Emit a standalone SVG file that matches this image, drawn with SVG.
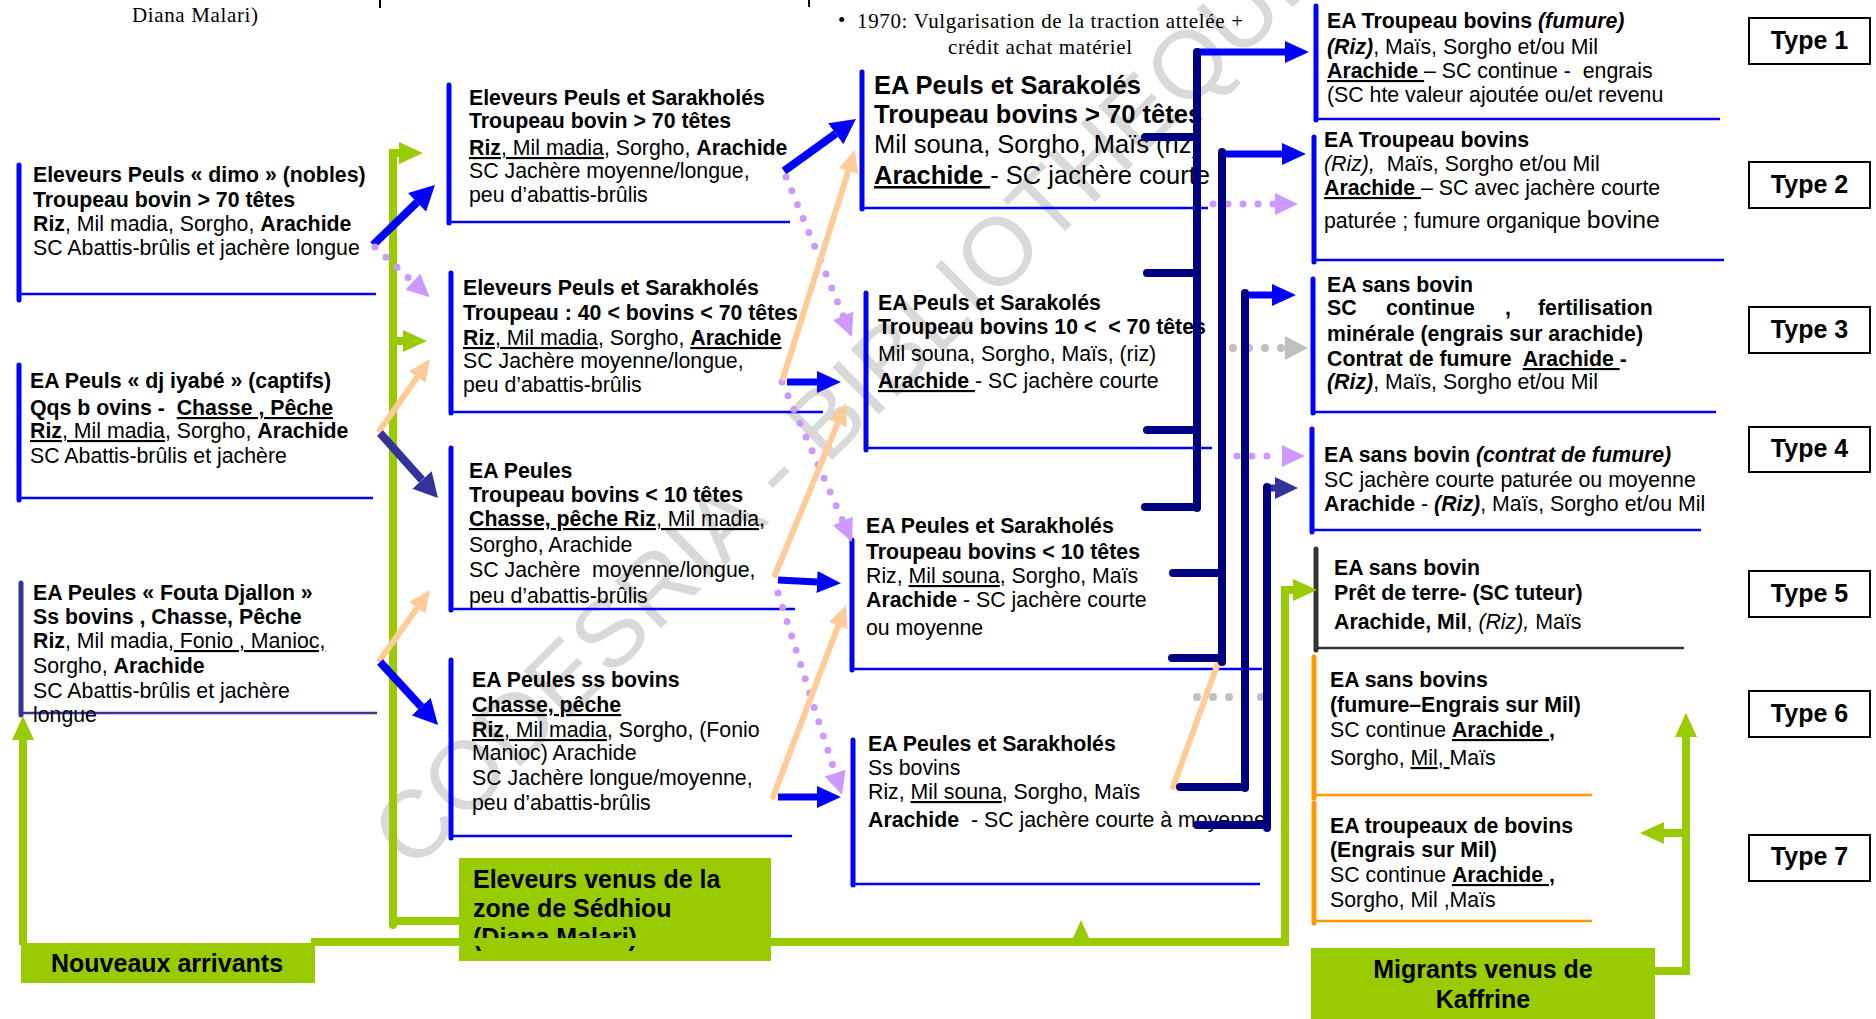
<svg xmlns="http://www.w3.org/2000/svg" width="1876" height="1019" viewBox="0 0 1876 1019">
<defs>
<style>
text{font-family:"Liberation Sans",Arial,sans-serif;font-size:21.3px;fill:#000}
.b{font-weight:bold}
.i{font-style:italic}
.u{text-decoration:underline}
.s{font-family:"Liberation Serif","Times New Roman",serif;font-size:21px}
.h{font-size:25.5px}
.lab{font-size:25px;font-weight:bold}
.wm{font-size:96px;fill:#D9D9D9}
.bar{stroke:#0000FF;stroke-width:5;stroke-linecap:round;fill:none}
.base{stroke:#0000FF;stroke-width:2.5;fill:none}
.sl{stroke:#333399}
.dk{stroke:#333333}
.or{stroke:#FF9900}
.gbox{fill:#99CC00}
.tbox{fill:#fff;stroke:#000;stroke-width:2}
.nv{stroke:#000080;stroke-width:8;stroke-linecap:round;fill:none}
.bl{stroke:#0000FF;stroke-width:7;fill:none}
.bd{stroke:#0000FF;stroke-width:8;fill:none}
.sa{stroke:#333399;stroke-width:8;fill:none}
.sa2{stroke:#333399;stroke-width:7;fill:none}
.gr{stroke:#99CC00;stroke-width:8;fill:none}
.pe{stroke:#FFCC99;stroke-width:6;fill:none;stroke-linecap:round}
.pu{stroke:#CC99FF;stroke-width:7;stroke-dasharray:0 15;stroke-linecap:round;fill:none}
.gy{stroke:#C0C0C0;stroke-width:8;stroke-dasharray:0 16;stroke-linecap:round;fill:none}
.tick{stroke:#000;stroke-width:2}
</style>
<marker id="aB" markerUnits="userSpaceOnUse" viewBox="0 -11 24 22" markerWidth="24" markerHeight="22" refX="0" refY="0" orient="auto"><path d="M0,-11L24,0L0,11z" fill="#0000FF"/></marker>
<marker id="aBd" markerUnits="userSpaceOnUse" viewBox="0 -13 25 26" markerWidth="25" markerHeight="26" refX="0" refY="0" orient="auto"><path d="M0,-13L25,0L0,13z" fill="#0000FF"/></marker>
<marker id="aS" markerUnits="userSpaceOnUse" viewBox="0 -13 24 26" markerWidth="24" markerHeight="26" refX="0" refY="0" orient="auto"><path d="M0,-13L24,0L0,13z" fill="#333399"/></marker>
<marker id="aN" markerUnits="userSpaceOnUse" viewBox="0 -11 23 22" markerWidth="23" markerHeight="22" refX="0" refY="0" orient="auto"><path d="M0,-11L23,0L0,11z" fill="#333399"/></marker>
<marker id="aG" markerUnits="userSpaceOnUse" viewBox="0 -11 24 22" markerWidth="24" markerHeight="22" refX="0" refY="0" orient="auto"><path d="M0,-11L24,0L0,11z" fill="#99CC00"/></marker>
<marker id="aP" markerUnits="userSpaceOnUse" viewBox="0 -10 22 20" markerWidth="22" markerHeight="20" refX="0" refY="0" orient="auto"><path d="M0,-10L22,0L0,10z" fill="#FFCC99"/></marker>
<marker id="aPu" markerUnits="userSpaceOnUse" viewBox="0 -11 23 22" markerWidth="23" markerHeight="22" refX="0" refY="0" orient="auto"><path d="M0,-11L23,0L0,11z" fill="#CC99FF"/></marker>
<marker id="aY" markerUnits="userSpaceOnUse" viewBox="0 -12 23 24" markerWidth="23" markerHeight="24" refX="0" refY="0" orient="auto"><path d="M0,-12L23,0L0,12z" fill="#C0C0C0"/></marker>
</defs>
<rect x="0" y="0" width="1876" height="1019" fill="#fff"/>
<text class="wm" transform="translate(412,873) rotate(-44.5)">CODESRIA - BIBLIOTHEQUE</text>

<g id="header">
<text class="s" x="132" y="22" textLength="126">Diana Malari)</text>
<line class="tick" x1="380" y1="0" x2="380" y2="8"/>
<line class="tick" x1="809" y1="0" x2="809" y2="7"/>
<text class="s" x="838" y="27" font-size="20">•</text>
<text class="s" x="857" y="28" textLength="386">1970: Vulgarisation de la traction attelée +</text>
<text class="s" x="948" y="54" textLength="184">crédit achat matériel</text>
</g>

<g id="nodeA">
<line class="bar" x1="19" y1="165" x2="19" y2="300"/><line class="base" x1="19" y1="294" x2="376" y2="294"/>
<text x="33" y="182" class="b">Eleveurs Peuls « dimo » (nobles)</text>
<text x="33" y="207" class="b">Troupeau bovin &gt; 70 têtes</text>
<text x="33" y="231"><tspan class="b">Riz</tspan>, Mil madia, Sorgho, <tspan class="b">Arachide</tspan></text>
<text x="33" y="255">SC Abattis-brûlis et jachère longue</text>
</g>
<g id="nodeB">
<line class="bar" x1="19" y1="365" x2="19" y2="500"/><line class="base" x1="19" y1="498" x2="373" y2="498"/>
<text x="30" y="388" class="b">EA Peuls « dj iyabé » (captifs)</text>
<text x="30" y="415" class="b">Qqs b ovins -&#160; <tspan class="u">Chasse , Pêche</tspan></text>
<text x="30" y="438"><tspan class="b u">Riz</tspan><tspan class="u">, Mil madia</tspan>, Sorgho, <tspan class="b">Arachide</tspan></text>
<text x="30" y="463">SC Abattis-brûlis et jachère</text>
</g>
<g id="nodeC">
<line class="bar sl" x1="21" y1="583" x2="21" y2="715"/><line class="base sl" x1="21" y1="713" x2="377" y2="713"/>
<text x="33" y="600" class="b">EA Peules « Fouta Djallon »</text>
<text x="33" y="624" class="b">Ss bovins , Chasse, Pêche</text>
<text x="33" y="648"><tspan class="b">Riz</tspan>, Mil madia,<tspan class="u"> Fonio , Manioc,</tspan></text>
<text x="33" y="673">Sorgho, <tspan class="b">Arachide</tspan></text>
<text x="33" y="698">SC Abattis-brûlis et jachère</text>
<text x="33" y="722">longue</text>
</g>

<g id="nodeD">
<line class="bar" x1="449" y1="85" x2="449" y2="223"/><line class="base" x1="449" y1="222" x2="790" y2="222"/>
<text x="469" y="105" class="b">Eleveurs Peuls et Sarakholés</text>
<text x="469" y="128" class="b">Troupeau bovin &gt; 70 têtes</text>
<text x="469" y="155"><tspan class="b u">Riz</tspan><tspan class="u">, Mil madia</tspan>, Sorgho, <tspan class="b">Arachide</tspan></text>
<text x="469" y="178">SC Jachère moyenne/longue,</text>
<text x="469" y="202">peu d’abattis-brûlis</text>
</g>
<g id="nodeE">
<line class="bar" x1="451" y1="273" x2="451" y2="413"/><line class="base" x1="451" y1="412" x2="823" y2="412"/>
<text x="463" y="295" class="b">Eleveurs Peuls et Sarakholés</text>
<text x="463" y="320" class="b">Troupeau : 40 &lt; bovins &lt; 70 têtes</text>
<text x="463" y="345"><tspan class="b u">Riz</tspan><tspan class="u">, Mil madia</tspan>, Sorgho, <tspan class="b u">Arachide </tspan></text>
<text x="463" y="368">SC Jachère moyenne/longue,</text>
<text x="463" y="392">peu d’abattis-brûlis</text>
</g>
<g id="nodeF">
<line class="bar" x1="451" y1="448" x2="451" y2="610"/><line class="base" x1="451" y1="609" x2="795" y2="609"/>
<text x="469" y="478" class="b">EA Peules</text>
<text x="469" y="502" class="b">Troupeau bovins &lt; 10 têtes</text>
<text x="469" y="526"><tspan class="b u">Chasse, pêche Riz</tspan><tspan class="u">, Mil madia</tspan>,</text>
<text x="469" y="552">Sorgho, Arachide</text>
<text x="469" y="577">SC Jachère&#160; moyenne/longue,</text>
<text x="469" y="603">peu d’abattis-brûlis</text>
</g>
<g id="nodeG">
<line class="bar" x1="451" y1="660" x2="451" y2="838"/><line class="base" x1="451" y1="836" x2="792" y2="836"/>
<text x="472" y="687" class="b">EA Peules ss bovins</text>
<text x="472" y="712" class="b u">Chasse, pêche </text>
<text x="472" y="737"><tspan class="b u">Riz</tspan><tspan class="u">, Mil madia</tspan>, Sorgho, (Fonio</text>
<text x="472" y="760">Manioc) Arachide</text>
<text x="472" y="785">SC Jachère longue/moyenne,</text>
<text x="472" y="810">peu d’abattis-brûlis</text>
</g>

<g id="nodeH">
<line class="bar" x1="862" y1="72" x2="862" y2="209"/><line class="base" x1="862" y1="208" x2="1208" y2="208"/>
<text x="874" y="94" class="b h">EA Peuls et Sarakolés</text>
<text x="874" y="123" class="b h">Troupeau bovins &gt; 70 têtes</text>
<text x="874" y="153" class="h">Mil souna, Sorgho, Maïs (riz)</text>
<text x="874" y="184" class="h"><tspan class="b u">Arachide </tspan>- SC jachère courte</text>
</g>
<g id="nodeI">
<line class="bar" x1="866" y1="293" x2="866" y2="450"/><line class="base" x1="866" y1="448" x2="1212" y2="448"/>
<text x="878" y="310" class="b">EA Peuls et Sarakolés</text>
<text x="878" y="334" class="b">Troupeau bovins 10 &lt;&#160; &lt; 70 têtes</text>
<text x="878" y="361">Mil souna, Sorgho, Maïs, (riz)</text>
<text x="878" y="388"><tspan class="b u">Arachide </tspan>- SC jachère courte</text>
</g>
<g id="nodeJ">
<line class="bar" x1="852" y1="540" x2="852" y2="670"/><line class="base" x1="852" y1="669" x2="1262" y2="669"/>
<text x="866" y="533" class="b">EA Peules et Sarakholés</text>
<text x="866" y="559" class="b">Troupeau bovins &lt; 10 têtes</text>
<text x="866" y="583">Riz, <tspan class="u">Mil souna</tspan>, Sorgho, Maïs</text>
<text x="866" y="607"><tspan class="b">Arachide</tspan> - SC jachère courte</text>
<text x="866" y="635">ou moyenne</text>
</g>
<g id="nodeK">
<line class="bar" x1="853" y1="740" x2="853" y2="885"/><line class="base" x1="853" y1="884" x2="1260" y2="884"/>
<text x="868" y="751" class="b">EA Peules et Sarakholés</text>
<text x="868" y="775">Ss bovins</text>
<text x="868" y="799">Riz, <tspan class="u">Mil souna</tspan>, Sorgho, Maïs</text>
<text x="868" y="827"><tspan class="b">Arachide</tspan>&#160; - SC jachère courte à moyenne</text>
</g>

<g id="nodeT1">
<line class="bar" x1="1316" y1="6" x2="1316" y2="120"/><line class="base" x1="1316" y1="119" x2="1720" y2="119"/>
<text x="1327" y="28" class="b">EA Troupeau bovins <tspan class="i">(fumure)</tspan></text>
<text x="1327" y="54"><tspan class="b i">(Riz)</tspan>, Maïs, Sorgho et/ou Mil</text>
<text x="1327" y="78"><tspan class="b u">Arachide </tspan> – SC continue -&#160; engrais</text>
<text x="1327" y="102">(SC hte valeur ajoutée ou/et revenu</text>
</g>
<g id="nodeT2">
<line class="bar" x1="1314" y1="137" x2="1314" y2="262"/><line class="base" x1="1314" y1="260" x2="1724" y2="260"/>
<text x="1324" y="147" class="b">EA Troupeau bovins</text>
<text x="1324" y="171"><tspan class="i">(Riz),</tspan>&#160; Maïs, Sorgho et/ou Mil</text>
<text x="1324" y="195"><tspan class="b u">Arachide </tspan> – SC avec jachère courte</text>
<text x="1324" y="228">paturée ; fumure organique <tspan font-size="24.8px">bovine</tspan></text>
</g>
<g id="nodeT3">
<line class="bar" x1="1313" y1="279" x2="1313" y2="413"/><line class="base" x1="1313" y1="412" x2="1716" y2="412"/>
<text x="1327" y="292" class="b">EA sans bovin</text>
<text y="315" class="b"><tspan x="1327">SC</tspan><tspan x="1386">continue</tspan><tspan x="1505">,</tspan><tspan x="1538">fertilisation</tspan></text>
<text x="1327" y="341" class="b">minérale (engrais sur arachide)</text>
<text x="1327" y="366" class="b">Contrat de fumure&#160; <tspan class="u">Arachide </tspan> -</text>
<text x="1327" y="389"><tspan class="b i">(Riz)</tspan>, Maïs, Sorgho et/ou Mil</text>
</g>
<g id="nodeT4">
<line class="bar" x1="1312" y1="429" x2="1312" y2="532"/><line class="base" x1="1312" y1="530" x2="1701" y2="530"/>
<text x="1324" y="462" class="b">EA sans bovin <tspan class="i">(contrat de fumure)</tspan></text>
<text x="1324" y="487">SC jachère courte paturée ou moyenne</text>
<text x="1324" y="511"><tspan class="b">Arachide</tspan> - <tspan class="b i">(Riz)</tspan>, Maïs, Sorgho et/ou Mil</text>
</g>
<g id="nodeT5">
<line class="bar dk" x1="1316" y1="549" x2="1316" y2="650"/><line class="base dk" x1="1316" y1="648" x2="1684" y2="648"/>
<text x="1334" y="575" class="b">EA sans bovin</text>
<text x="1334" y="600" class="b">Prêt de terre- (SC tuteur)</text>
<text x="1334" y="629"><tspan class="b">Arachide, Mil</tspan>, <tspan class="i">(Riz),</tspan> Maïs</text>
</g>
<g id="nodeT6">
<line class="bar or" x1="1314" y1="657" x2="1314" y2="798"/><line class="base or" x1="1314" y1="795" x2="1592" y2="795"/>
<text x="1330" y="687" class="b">EA sans bovins</text>
<text x="1330" y="712" class="b">(fumure–Engrais sur Mil)</text>
<text x="1330" y="737">SC continue <tspan class="b"><tspan class="u">Arachide </tspan>,</tspan></text>
<text x="1330" y="765">Sorgho, <tspan class="u">Mil</tspan>,<tspan class="u"> </tspan>Maïs</text>
</g>
<g id="nodeT7">
<line class="bar or" x1="1314" y1="803" x2="1314" y2="923"/><line class="base or" x1="1314" y1="921" x2="1592" y2="921"/>
<text x="1330" y="833" class="b">EA troupeaux de bovins</text>
<text x="1330" y="857" class="b">(Engrais sur Mil)</text>
<text x="1330" y="882">SC continue <tspan class="b"><tspan class="u">Arachide </tspan>,</tspan></text>
<text x="1330" y="907">Sorgho, Mil ,Maïs</text>
</g>

<g id="type1"><rect class="tbox" x="1749" y="18" width="121" height="46"/><text class="lab" x="1809.5" y="49" text-anchor="middle">Type 1</text></g>
<g id="type2"><rect class="tbox" x="1749" y="162" width="121" height="46"/><text class="lab" x="1809.5" y="193" text-anchor="middle">Type 2</text></g>
<g id="type3"><rect class="tbox" x="1749" y="307" width="121" height="46"/><text class="lab" x="1809.5" y="338" text-anchor="middle">Type 3</text></g>
<g id="type4"><rect class="tbox" x="1749" y="427" width="121" height="45"/><text class="lab" x="1809.5" y="457" text-anchor="middle">Type 4</text></g>
<g id="type5"><rect class="tbox" x="1749" y="571" width="121" height="46"/><text class="lab" x="1809.5" y="602" text-anchor="middle">Type 5</text></g>
<g id="type6"><rect class="tbox" x="1749" y="691" width="121" height="46"/><text class="lab" x="1809.5" y="722" text-anchor="middle">Type 6</text></g>
<g id="type7"><rect class="tbox" x="1749" y="835" width="121" height="46"/><text class="lab" x="1809.5" y="865" text-anchor="middle">Type 7</text></g>

<g id="eleveursSedhiou">
<rect class="gbox" x="459" y="858" width="312" height="103"/>
<text class="lab" x="473" y="888">Eleveurs venus de la</text>
<text class="lab" x="473" y="917">zone de Sédhiou</text>
<text class="lab" x="473" y="946">(Diana Malari)</text>
</g>
<g id="nouveaux">
<rect class="gbox" x="21" y="943" width="294" height="40"/>
<text class="lab" x="51" y="972" font-size="24.5px">Nouveaux arrivants</text>
</g>
<g id="migrants">
<rect class="gbox" x="1311" y="948" width="344" height="75"/>
<text class="lab" x="1483" y="978" text-anchor="middle">Migrants venus de</text>
<text class="lab" x="1483" y="1008" text-anchor="middle">Kaffrine</text>
</g>

<g id="connectors">
<!-- green flows -->
<path class="gr" d="M393,925 V153 H399" stroke-linecap="round" marker-end="url(#aG)"/>
<path class="gr" d="M393,341 H403" marker-end="url(#aG)"/>
<path class="gr" d="M393,921 H459" stroke-linecap="round"/>
<path class="gr" d="M23,945 V740" marker-end="url(#aG)"/>
<path class="gr" d="M311,942 H1285 V590 H1293" marker-end="url(#aG)"/>
<polygon points="1073,938 1089,938 1081,920" fill="#99CC00"/>
<path class="gr" d="M1655,971 H1686 V737" marker-end="url(#aG)"/>
<path class="gr" d="M1686,833 H1664" marker-end="url(#aG)"/>

<!-- column 1 to column 2 -->
<path class="bd" d="M373,245 L417,202.4" marker-end="url(#aBd)"/>
<path class="pu" d="M375,247 L412.8,281.7" marker-end="url(#aPu)"/>
<path class="pe" d="M380,430 L417.3,377" marker-end="url(#aP)"/>
<path class="sa" d="M380,433 L422,480" marker-end="url(#aS)"/>
<path class="pe" d="M380,660 L417.2,607.9" marker-end="url(#aP)"/>
<path class="bd" d="M380,662 L421.1,706.6" marker-end="url(#aBd)"/>

<!-- column 2 to column 3 -->
<path class="bd" d="M784,171 L835.7,133.7" marker-end="url(#aBd)"/>
<path class="pu" d="M786,177 L843.2,315.7" marker-end="url(#aPu)"/>
<path class="pu" d="M782,382 L842.8,520.9" marker-end="url(#aPu)"/>
<path class="pu" d="M778,593 L835.1,773.1" marker-end="url(#aPu)"/>
<path class="pe" d="M783,378 L848.4,171" marker-end="url(#aP)"/>
<path class="pe" d="M775,575 L837.6,423.3" marker-end="url(#aP)"/>
<path class="pe" d="M773,797 L838.2,625.6" marker-end="url(#aP)"/>
<path class="bl" d="M787,382 H817" marker-end="url(#aB)"/>
<path class="bl" d="M778,580 L817,582" marker-end="url(#aB)"/>
<path class="bl" d="M778,797 H817" marker-end="url(#aB)"/>

<!-- column 3 to column 4 -->
<path class="pe" d="M1173,787 L1218,663"/>
<path class="pu" d="M1213,204 H1275" marker-end="url(#aPu)"/>
<path class="gy" d="M1233,348 H1285" marker-end="url(#aY)"/>
<path class="pu" d="M1237,456 H1282" marker-end="url(#aPu)"/>
<path class="gy" d="M1197,697 H1262"/>
<path class="bl" d="M1197,52 H1285" marker-end="url(#aB)"/>
<path class="bl" d="M1222,154 H1282" marker-end="url(#aB)"/>
<path class="bl" d="M1245,295 H1272" marker-end="url(#aB)"/>
<path class="sa2" d="M1267,488 H1275" marker-end="url(#aN)"/>
<path class="nv" d="M1145,137 H1197 M1147,273 H1197 M1147,430 H1197 M1145,507 H1197 M1197,508 V52"/>
<path class="nv" d="M1173,573 H1222 M1172,658 H1222 M1222,662 V152"/>
<path class="nv" d="M1180,787 H1245 M1245,788 V293"/>
<path class="nv" d="M1197,825 H1267 M1267,828 V487"/>
</g>
</svg>
